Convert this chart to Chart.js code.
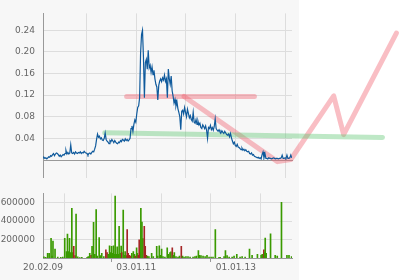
<!DOCTYPE html>
<html>
<head>
<meta charset="utf-8">
<script src="https://cdn.jsdelivr.net/npm/chart.js@4.4.1/dist/chart.umd.min.js"></script>
<style>
  html, body { margin: 0; padding: 0; background: #fff; }
  #wrap {
    position: relative; width: 402px; height: 280px;
    background: linear-gradient(to right, #f7f7f7 0, #f7f7f7 299px, #fff 299px);
  }
  canvas { position: absolute; left: 0; }
  #price { top: 0; }
  #volume { top: 180px; }
</style>
</head>
<body>
<div id="wrap">
  <canvas id="price" width="402" height="180"></canvas>
  <canvas id="volume" width="402" height="100"></canvas>
</div>
<script>
// x axis is in days since 20.02.09
const xMaxDay = 1822;
const xTickDays = [0, 315, 682, 1045, 1411, 1776];
const xTickLabels = ['20.02.09', '', '03.01.11', '', '01.01.13', ''];

const priceTicks = [0.04, 0.08, 0.12, 0.16, 0.20, 0.24];
const priceMax = 0.271;
const volTicks = [200000, 400000, 600000];
const volMax = 700000;

// weekly closes
const priceStepDays = 7;
const prices = [
  0.004, 0.005, 0.003, 0.004, 0.002, 0.004, 0.006, 0.005, 0.008, 0.007,
  0.010, 0.012, 0.008, 0.011, 0.013, 0.012, 0.010, 0.007, 0.009, 0.006,
  0.008, 0.010, 0.009, 0.012,
  0.018, 0.011, 0.014, 0.011, 0.013, 0.028, 0.013, 0.012, 0.014, 0.011,
  0.015, 0.013, 0.012, 0.014, 0.013, 0.015, 0.012, 0.014, 0.013, 0.016,
  0.014, 0.013,
  0.012, 0.009, 0.012, 0.013, 0.011, 0.014, 0.016, 0.015, 0.020, 0.026,
  0.038, 0.048, 0.042,
  0.044, 0.039, 0.041, 0.037, 0.036, 0.040, 0.050, 0.038, 0.035, 0.033,
  0.030, 0.036, 0.034, 0.038, 0.035, 0.032, 0.036, 0.033, 0.031, 0.030,
  0.033, 0.032, 0.036, 0.034, 0.038, 0.037, 0.035, 0.039, 0.036, 0.038,
  0.035, 0.037, 0.040,
  0.058, 0.063, 0.053, 0.066, 0.074, 0.070, 0.085, 0.097, 0.100, 0.115,
  0.197, 0.232, 0.240, 0.190, 0.115, 0.180, 0.186, 0.168, 0.203, 0.170,
  0.175, 0.162, 0.172, 0.158, 0.166, 0.150, 0.140, 0.135, 0.111, 0.138,
  0.146, 0.150, 0.145, 0.152, 0.148, 0.157, 0.145, 0.150, 0.115, 0.168,
  0.150, 0.140, 0.155, 0.128, 0.118, 0.105, 0.112, 0.100, 0.108, 0.095,
  0.088, 0.080, 0.056, 0.090,
  0.092, 0.085, 0.097, 0.088, 0.080, 0.094, 0.086, 0.078, 0.082, 0.075,
  0.072, 0.088, 0.070, 0.068, 0.075, 0.066, 0.072, 0.065, 0.068, 0.060,
  0.058, 0.065, 0.062, 0.058, 0.063, 0.055, 0.040, 0.060, 0.058, 0.064,
  0.056, 0.060, 0.055, 0.062, 0.076, 0.058, 0.055, 0.053, 0.056, 0.052,
  0.050, 0.054, 0.051, 0.049, 0.053, 0.050, 0.047, 0.046, 0.048, 0.043,
  0.049, 0.041, 0.035, 0.030, 0.033, 0.027, 0.025, 0.029, 0.024, 0.023,
  0.021, 0.019, 0.022, 0.018, 0.020, 0.017, 0.019, 0.016, 0.015, 0.016,
  0.012, 0.011, 0.013, 0.009, 0.010, 0.007, 0.006, 0.005, 0.004, 0.005,
  0.003, 0.004,
  0.002, 0.010, 0.015, 0.004, 0.012, 0.003, 0.003, 0.002, 0.004, 0.003,
  0.003, 0.002, 0.003, 0.004, 0.003, 0.002, 0.003, 0.003, 0.002, 0.003,
  0.003, 0.004, 0.009, 0.003, 0.003, 0.004, 0.003, 0.009, 0.003, 0.003,
  0.004, 0.009, 0.004
];

// volume bars: day, volume in thousands, 1 = up day
const volDays = [
  7, 20, 34, 45, 59, 66, 73, 88, 108, 130, 145, 159, 172, 179, 186, 194, 203, 211, 218, 225,
  235, 242, 254, 269, 284, 323, 331, 342, 352, 359, 370, 379, 389, 397, 411, 419, 430, 445, 460, 469,
  478, 487, 494, 502, 509, 516, 522, 528, 537, 543, 550, 557, 565, 572, 577, 587, 595, 601, 609, 616,
  623, 632, 643, 650, 661, 669, 676, 685, 691, 697, 704, 709, 716, 724, 731, 741, 748, 755, 764, 775,
  795, 807, 832, 839, 851, 858, 868, 878, 892, 909, 918, 929, 936, 946, 953, 961, 973, 988, 999, 1012,
  1021, 1032, 1046, 1061, 1076, 1098, 1112, 1123, 1137, 1145, 1156, 1171, 1186, 1200, 1215, 1230, 1244, 1261, 1288, 1296,
  1325, 1335, 1347, 1362, 1384, 1398, 1418, 1442, 1457, 1479, 1511, 1530, 1569, 1596, 1604, 1616, 1622, 1626, 1633, 1665,
  1699, 1714, 1745, 1785, 1800, 1819
];
const volK = [
  12, 8, 50, 50, 212, 20, 184, 98, 10, 8, 10, 212, 70, 260, 70, 212, 60, 539, 60, 127,
  25, 476, 12, 5, 8, 8, 15, 50, 30, 127, 387, 40, 524, 20, 222, 25, 50, 15, 89, 60,
  40, 133, 60, 127, 50, 133, 40, 672, 40, 120, 40, 343, 50, 130, 60, 520, 30, 70, 25, 308,
  50, 30, 20, 50, 70, 40, 20, 110, 50, 30, 196, 60, 539, 390, 210, 343, 127, 30, 20, 15,
  50, 15, 127, 20, 133, 30, 98, 15, 10, 110, 40, 60, 68, 110, 30, 60, 15, 10, 20, 127,
  20, 10, 15, 15, 10, 10, 15, 20, 80, 30, 25, 20, 15, 30, 10, 10, 10, 308, 8, 8,
  15, 80, 25, 10, 10, 20, 40, 10, 15, 10, 98, 30, 40, 30, 40, 89, 60, 215, 50, 263,
  30, 20, 603, 29, 29, 15
];
const volUp = [
  1, 1, 1, 1, 1, 1, 1, 1, 1, 1, 1, 1, 1, 1, 1, 1, 1, 1, 1, 0,
  0, 1, 1, 1, 1, 1, 1, 1, 0, 1, 1, 1, 1, 1, 1, 1, 1, 1, 0, 0,
  1, 1, 1, 1, 1, 1, 1, 1, 1, 1, 1, 1, 1, 1, 0, 1, 1, 1, 1, 0,
  0, 0, 0, 1, 1, 1, 0, 1, 1, 0, 0, 0, 1, 1, 1, 0, 0, 0, 1, 1,
  1, 1, 1, 1, 1, 1, 1, 1, 1, 1, 1, 1, 1, 0, 1, 1, 1, 1, 1, 0,
  1, 1, 1, 1, 1, 1, 1, 1, 1, 1, 1, 1, 1, 1, 1, 1, 1, 1, 1, 1,
  1, 1, 1, 1, 1, 1, 1, 1, 1, 1, 1, 1, 1, 1, 1, 0, 1, 1, 1, 1,
  1, 1, 1, 1, 1, 1
];

// hand drawn trend lines (day, price)
const resistDays = [612, 1547];
const resistVals = [0.1174, 0.1174];
const trendDays = [1032, 1716, 1813, 2127, 2200, 2586];
const trendVals = [0.1174, -0.003, 0.0009, 0.1185, 0.047, 0.2347];
const supportDays = [452, 2484];
const supportVals = [0.0502, 0.0417];

Chart.defaults.font.family = 'DejaVu Sans';
Chart.defaults.font.size = 9;
Chart.defaults.color = '#666';

const AXIS = '#999';
const GRID = '#ddd';
const PINK = 'rgba(240, 100, 115, 0.42)';
const GREEN = 'rgba(100, 200, 120, 0.42)';

// reversed so chart.js keeps the points past the x max
const pts = (xs, ys) => xs.map((x, i) => ({ x: x, y: ys[i] })).reverse();

function setTicks(values) {
  return (scale) => { scale.ticks = values.map(v => ({ value: v })); };
}

const overlay = (data, color, w) => ({
  data: data,
  borderColor: color,
  borderWidth: w,
  borderCapStyle: 'round',
  borderJoinStyle: 'round',
  pointRadius: 0,
  clip: false,
  order: 2
});

new Chart(document.getElementById('price'), {
  type: 'line',
  data: {
    datasets: [
      {
        data: prices.map((v, i) => ({ x: i * priceStepDays, y: v })),
        borderColor: '#0f5a9c',
        borderWidth: 1.2,
        pointRadius: 0,
        tension: 0,
        order: 1
      },
      overlay(pts(supportDays, supportVals), GREEN, 5),
      overlay(pts(resistDays, resistVals), PINK, 5),
      overlay(pts(trendDays, trendVals), PINK, 5)
    ]
  },
  options: {
    responsive: false,
    animation: false,
    layout: { padding: { top: 6, right: 110, left: 0, bottom: 0 } },
    plugins: { legend: { display: false }, tooltip: { enabled: false } },
    scales: {
      x: {
        type: 'linear',
        min: 0,
        max: xMaxDay,
        afterBuildTicks: setTicks(xTickDays),
        afterFit: (s) => { s.height = 20; },
        ticks: { display: false },
        grid: {
          color: (c) => c.index === 0 ? 'transparent' : GRID,
          tickColor: (c) => c.index === 0 ? AXIS : GRID,
          tickLength: 18
        },
        border: { color: AXIS }
      },
      y: {
        min: 0,
        max: priceMax,
        afterBuildTicks: setTicks(priceTicks),
        afterFit: (s) => { s.width = 43; },
        ticks: { padding: 8, callback: (v) => v.toFixed(2) },
        grid: { color: GRID, drawTicks: false },
        border: { color: AXIS }
      }
    }
  }
});

new Chart(document.getElementById('volume'), {
  type: 'bar',
  data: {
    datasets: [{
      data: volDays.map((d, i) => ({ x: d, y: volK[i] * 1000 })),
      backgroundColor: volUp.map(u => u ? '#3a9a00' : '#a52626'),
      barThickness: 1,
      borderWidth: 0
    }]
  },
  options: {
    responsive: false,
    animation: false,
    layout: { padding: { top: 5, right: 110, left: 0, bottom: 0 } },
    plugins: { legend: { display: false }, tooltip: { enabled: false } },
    scales: {
      x: {
        type: 'linear',
        min: 0,
        max: xMaxDay,
        offset: false,
        afterBuildTicks: setTicks(xTickDays),
        afterFit: (s) => { s.height = 22; },
        ticks: {
          autoSkip: false,
          maxRotation: 0,
          padding: 0,
          callback: (v, i) => xTickLabels[i]
        },
        grid: {
          color: (c) => c.index === 0 ? 'transparent' : GRID,
          tickColor: (c) => xTickLabels[c.index] ? AXIS : 'transparent',
          tickLength: 4
        },
        border: { color: AXIS }
      },
      y: {
        min: 0,
        max: volMax,
        afterBuildTicks: setTicks(volTicks),
        afterFit: (s) => { s.width = 43; },
        ticks: { padding: 8, callback: (v) => String(v) },
        grid: { color: GRID, drawTicks: false },
        border: { color: AXIS }
      }
    }
  }
});
</script>
</body>
</html>
